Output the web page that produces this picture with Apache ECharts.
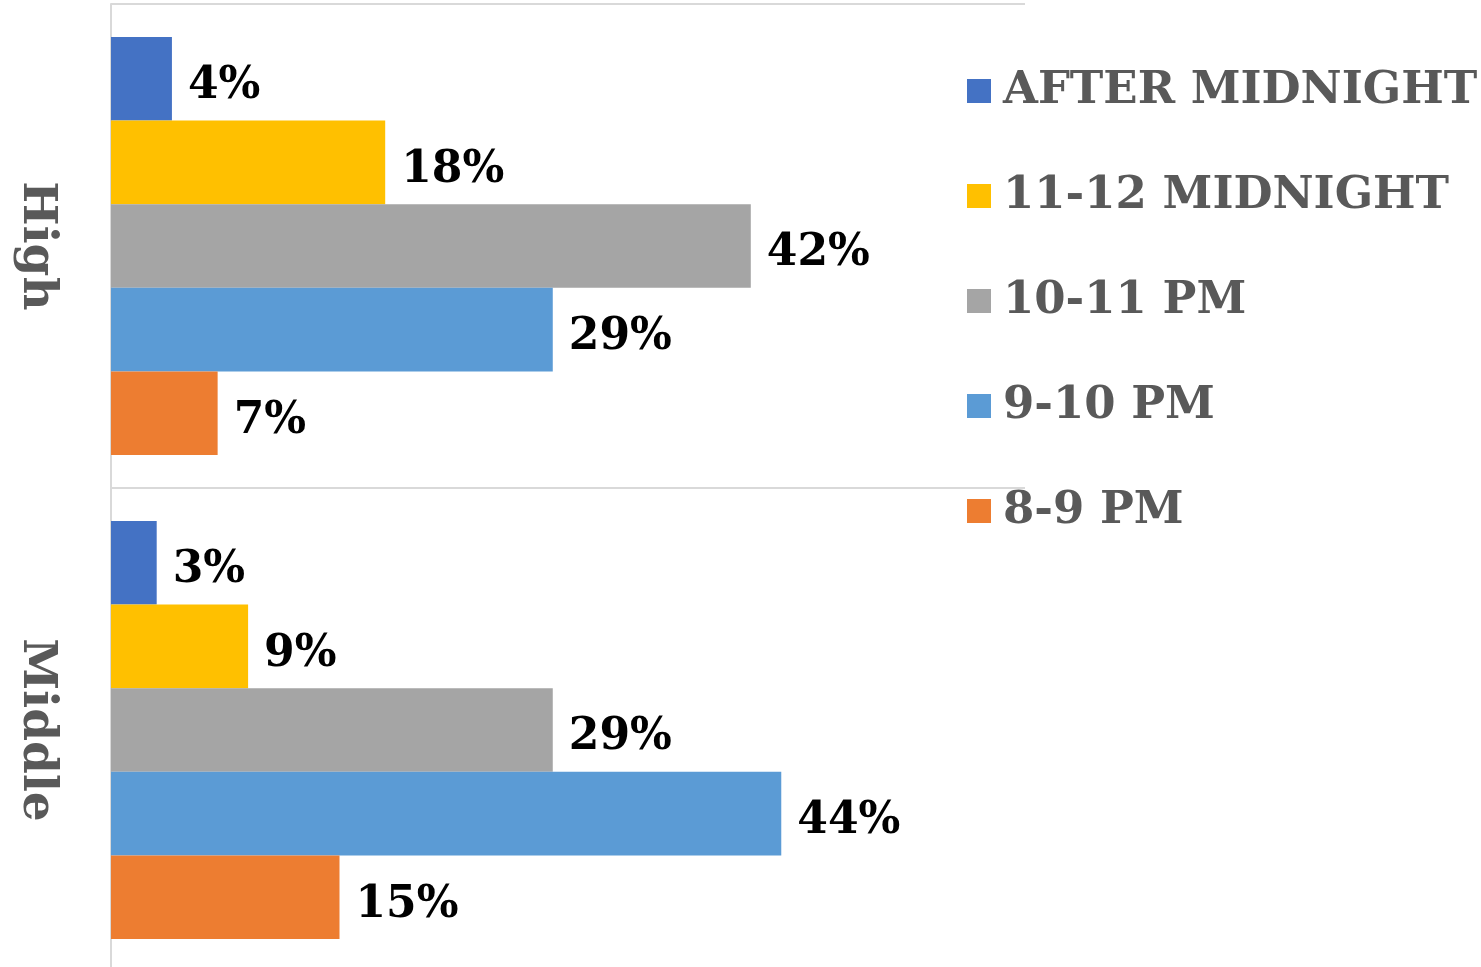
<!DOCTYPE html>
<html>
<head>
<meta charset="utf-8">
<script src="https://cdn.jsdelivr.net/npm/echarts@6/dist/echarts.min.js"></script>
<style>
  html, body { margin: 0; padding: 0; background: #fff; }
  #chart { width: 1481px; height: 967px; }
</style>
</head>
<body>
<div id="chart"></div>
<script>
// Income groups shown as bands (top to bottom)
const groups = ['High', 'Middle'];

// Bedtime slots, in legend / bar order within each band
const slotNames = ['AFTER MIDNIGHT', '11-12 MIDNIGHT', '10-11 PM', '9-10 PM', '8-9 PM'];
const slotColors = ['#4472C4', '#FFC000', '#A5A5A5', '#5B9BD5', '#ED7D31'];

// Share of respondents (%) per slot, one value per group [High, Middle]
const afterMidnight = [4, 3];
const elevenToTwelve = [18, 9];
const tenToEleven = [42, 29];
const nineToTen = [29, 44];
const eightToNine = [7, 15];

const slotValues = [afterMidnight, elevenToTwelve, tenToEleven, nineToTen, eightToNine];

const FONT = "Georgia, 'DejaVu Serif', serif";

const chart = echarts.init(document.getElementById('chart'), null, { renderer: 'canvas' });

chart.setOption({
  backgroundColor: '#ffffff',
  animation: false,
  // plot area runs a little past the bottom edge of the canvas
  grid: {
    left: 111, top: 4, width: 914, height: 968,
    containLabel: false,
    outerBoundsMode: 'none'
  },
  legend: {
    orient: 'vertical',
    left: 967,
    top: 66,
    padding: 0,
    itemWidth: 24,
    itemHeight: 24,
    itemGap: 55,
    icon: 'rect',
    data: slotNames,
    textStyle: {
      fontFamily: FONT,
      fontWeight: 'bold',
      fontSize: 45,
      lineHeight: 50,
      color: '#595959',
      padding: [0, 0, 0, 7]
    }
  },
  xAxis: {
    type: 'value',
    min: 0,
    max: 60,
    show: false
  },
  yAxis: {
    type: 'category',
    data: groups,
    inverse: true,
    axisLine: { show: true, lineStyle: { color: '#D9D9D9', width: 2 } },
    axisTick: { show: false },
    splitLine: { show: true, lineStyle: { color: '#D9D9D9', width: 2 } },
    axisLabel: {
      rotate: -90,
      margin: 51,
      fontFamily: FONT,
      fontWeight: 'bold',
      fontSize: 47,
      color: '#595959'
    }
  },
  series: slotNames.map((name, i) => ({
    name: name,
    type: 'bar',
    data: slotValues[i],
    barGap: '0%',
    barCategoryGap: '13.6%',
    itemStyle: { color: slotColors[i] },
    label: {
      show: true,
      position: 'right',
      distance: 16,
      offset: [0, 8],
      formatter: '{c}%',
      fontFamily: FONT,
      fontWeight: 'bold',
      fontSize: 44,
      color: '#000000'
    }
  }))
});
</script>
</body>
</html>
